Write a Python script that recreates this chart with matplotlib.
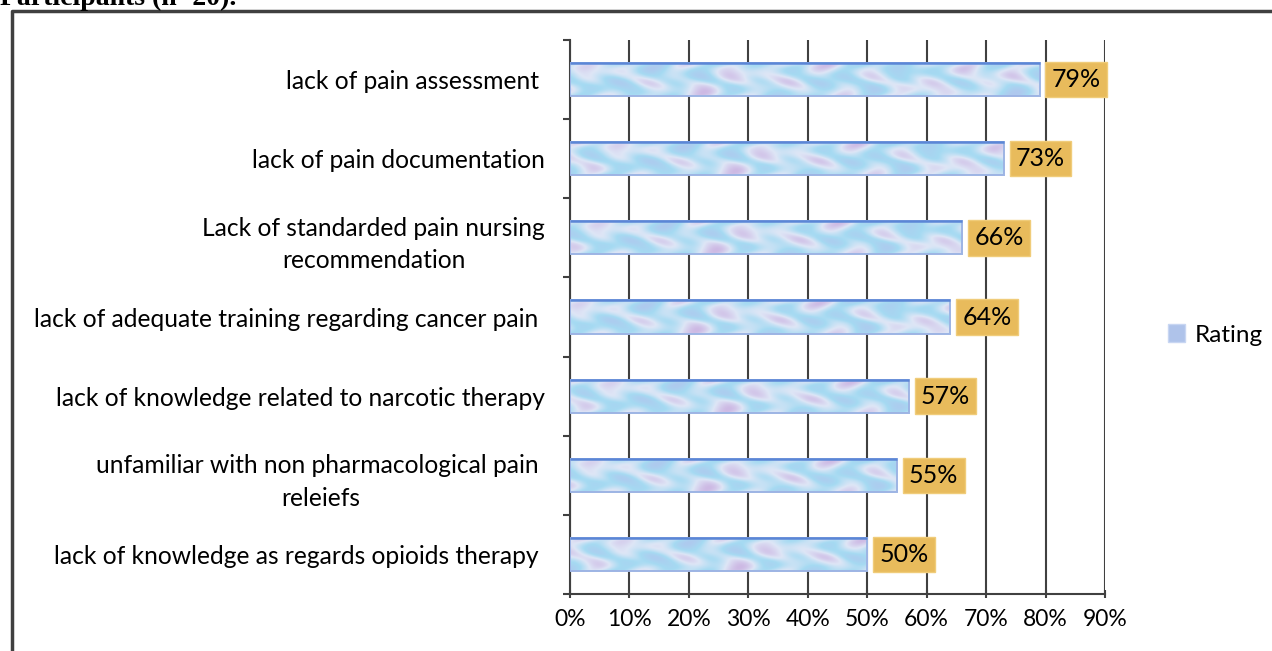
import numpy as np
import matplotlib
matplotlib.use("Agg")
import matplotlib.pyplot as plt
from matplotlib.lines import Line2D
from matplotlib.patches import Patch

# barriers, listed bottom to top as drawn
categories = [
    "lack of knowledge as regards opioids therapy ",
    "unfamiliar with non pharmacological pain \nreleiefs",
    "lack of knowledge related to narcotic therapy",
    "lack of adequate training regarding cancer pain ",
    "Lack of standarded pain nursing\nrecommendation",
    "lack of pain documentation",
    "lack of pain assessment ",
]
rating = [0.50, 0.55, 0.57, 0.64, 0.66, 0.73, 0.79]
value_labels = ["50%", "55%", "57%", "64%", "66%", "73%", "79%"]
x_ticks = [0.0, 0.1, 0.2, 0.3, 0.4, 0.5, 0.6, 0.7, 0.8, 0.9]
x_tick_labels = ["0%", "10%", "20%", "30%", "40%", "50%", "60%", "70%", "80%", "90%"]

FONT = ["Lato", "DejaVu Sans"]
plt.rcParams["font.family"] = FONT


def mottled_texture(h=40, w=700):
    # soft "marble" fill similar to the old Excel texture
    yy, xx = np.mgrid[0:h, 0:w].astype(float)
    n = (np.sin(xx / 9.0 + 2.0 * np.sin(yy / 7.0))
         + 0.8 * np.sin(xx / 23.0 - yy / 5.0)
         + 0.6 * np.sin((xx + 2 * yy) / 13.0)
         + 0.5 * np.sin(xx / 41.0 + yy / 11.0))
    t = (n - n.min()) / (n.max() - n.min())
    blue = np.array([175, 200, 238]) / 255
    cyan = np.array([165, 218, 242]) / 255
    lav = np.array([205, 185, 228]) / 255
    pale = np.array([222, 230, 246]) / 255
    t3 = t[..., None]
    img = np.where(t3 < 0.33, blue + (cyan - blue) * (t3 / 0.33),
                   np.where(t3 < 0.66, cyan + (pale - cyan) * ((t3 - 0.33) / 0.33),
                            pale + (lav - pale) * ((t3 - 0.66) / 0.34)))
    return img


fig = plt.figure(figsize=(12.72, 6.51), dpi=100)
ax = fig.add_axes([570 / 1272, 1 - 594 / 651, 535 / 1272, 554 / 651])

y = np.arange(len(categories))
bars = ax.barh(y, rating, height=0.42, facecolor="none",
               edgecolor="#9DB4E4", linewidth=1.4, zorder=4)

tex = mottled_texture()
for i, b in enumerate(bars):
    x0, y0, w, h = b.get_x(), b.get_y(), b.get_width(), b.get_height()
    ax.imshow(tex[:, int(i * 37) % 60: int(i * 37) % 60 + int(w * 700)],
              extent=(x0, x0 + w, y0, y0 + h), aspect="auto", zorder=3,
              interpolation="bilinear")
    # darker blue top edge
    ax.plot([x0, x0 + w], [y0 + h, y0 + h], color="#5B86D6", lw=1.8, zorder=5,
            solid_capstyle="butt")

for b, lab in zip(bars, value_labels):
    ax.annotate(lab, xy=(b.get_width(), b.get_y() + b.get_height() / 2),
                xytext=(12, 0), textcoords="offset pixels",
                ha="left", va="center", fontsize=18, color="black", zorder=6,
                bbox=dict(boxstyle="square,pad=0.25", facecolor="#E8BB5C",
                          edgecolor="#F0CC7A", linewidth=1))

ax.set_xlim(0, 0.9)
ax.set_ylim(-0.5, len(categories) - 0.5)
ax.set_xticks(x_ticks)
ax.set_xticklabels(x_tick_labels, fontsize=16.5)
ax.set_yticks(y)
ax.set_yticklabels(categories, fontsize=17.7, multialignment="center",
                   linespacing=1.5)
ax.set_yticks(np.arange(-0.5, len(categories), 1.0), minor=True)
ax.tick_params(axis="y", which="major", length=0, pad=18)
ax.tick_params(axis="y", which="minor", length=5, width=1.5, color="#404040", direction="out")
ax.tick_params(axis="x", length=6, width=1.5, color="#404040", direction="inout", pad=8)

ax.grid(axis="x", color="#404040", linewidth=1.5, zorder=1)
ax.set_axisbelow(True)
for s in ["top", "right"]:
    ax.spines[s].set_visible(False)
for s in ["left", "bottom"]:
    ax.spines[s].set_color("#404040")
    ax.spines[s].set_linewidth(1.5)

handle = Patch(facecolor="#AFC3EA", edgecolor="#C8D6F2")
fig.legend([handle], ["Rating"], loc="center left",
           bbox_to_anchor=(1168 / 1272, 1 - 335 / 651), frameon=False,
           fontsize=17.5, handlelength=0.7, handleheight=0.7, handletextpad=0.4,
           borderpad=0, borderaxespad=0)

# outer frame of the figure box
fig.add_artist(Line2D([12 / 1272, 12 / 1272, 1.0], [0.0, 1 - 11 / 651, 1 - 11 / 651],
                      transform=fig.transFigure, color="#404040", lw=2.5))
# caption cut off at the top of the crop
fig.text(0.0, 1 - 5 / 651, "Participants (n=20).", family="Liberation Serif",
         fontweight="bold", fontsize=20, va="baseline", ha="left")

fig.savefig("out.png", dpi=100)
